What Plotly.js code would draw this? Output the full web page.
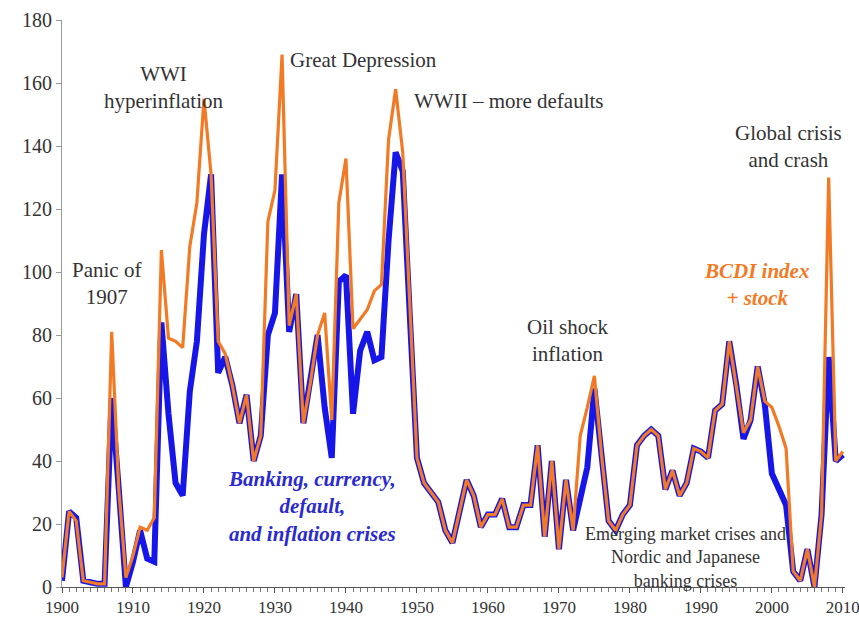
<!DOCTYPE html>
<html>
<head>
<meta charset="utf-8">
<script src="https://cdn.plot.ly/plotly-3.0.1.min.js"></script>
<style>html,body{margin:0;padding:0;background:#fff;}#chart{width:859px;height:617px;}</style>
</head>
<body>
<div id="chart"></div>
<script>
// Years 1900..2010
const startYear = 1900;
const endYear = 2010;
const years = [];
for (let y = startYear; y <= endYear; y++) years.push(y);

// BCDI index + stock (orange)
const bcdiStock = [
  3, 24, 21, 2, 1.5, 1, 1, 81, 31, 3,
  10, 19, 18, 22, 107, 79, 78, 76, 108, 122,
  155, 131, 78, 74, 64, 52, 61, 40, 48, 116,
  126, 169, 83, 93, 52, 65, 80, 87, 53, 122,
  136, 82, 85, 88, 94, 96, 142, 158, 138, 88,
  41, 33, 30, 27, 18, 14, 24, 34, 29, 19,
  23, 23, 28, 19, 19, 26, 26, 45, 16, 40,
  12, 34, 18, 48, 57, 67, 42, 21, 18, 23,
  26, 45, 48, 50, 48, 31, 37, 29, 33, 44,
  43, 41, 56, 58, 78, 64, 49, 53, 70, 59,
  57, 51, 44, 5, 2, 12, 0, 23, 130, 40,
  43
];

// Banking, currency, default and inflation crises (blue)
const bcdi = [
  2, 24, 22, 2, 1.5, 1, 1, 60, 31, 0,
  8, 18, 9, 8, 84, 55, 33, 29, 62, 78,
  112, 131, 68, 73, 64, 52, 61, 40, 48, 80,
  87, 131, 81, 93, 52, 65, 80, 57, 41, 97,
  99, 55, 75, 81, 72, 73, 110, 138, 132, 86,
  41, 33, 30, 27, 18, 14, 24, 34, 29, 19,
  23, 23, 28, 19, 19, 26, 26, 45, 16, 40,
  12, 34, 18, 28, 38, 63, 42, 21, 18, 23,
  26, 45, 48, 50, 48, 31, 37, 29, 33, 44,
  43, 41, 56, 58, 78, 64, 47, 53, 70, 58,
  36, 31, 26, 5, 2, 12, 0, 23, 73, 40,
  42
];

const xTickVals = [1900, 1910, 1920, 1930, 1940, 1950, 1960, 1970, 1980, 1990, 2000, 2010];
const xTickText = ['1900', '1910', '1920', '1930', '1940', '1950', '1960', '1970', '1980', '1990', '2000', '2010'];
const yTickVals = [0, 20, 40, 60, 80, 100, 120, 140, 160, 180];

const labelTexts = [
  'WWI<br>hyperinflation',
  'Great Depression',
  'WWII \u2013 more defaults',
  'Global crisis<br>and crash',
  'Panic of<br>1907',
  'Oil shock<br>inflation'
];
const labelX = [1914.3, 1942.5, 1963.0, 2002.4, 1906.2, 1971.3];
const labelY = [158.7, 167.3, 154.3, 139.7, 96.2, 78.4];

const serif = 'Liberation Serif, Times New Roman, serif';
const orange = '#f37a25';
const blue = '#1616e8';

const traces = [
  {
    x: years, y: bcdi, type: 'scatter', mode: 'lines',
    line: {color: blue, width: 6},
    name: 'Banking, currency, default, and inflation crises',
    hoverinfo: 'x+y'
  },
  {
    x: years, y: bcdiStock, type: 'scatter', mode: 'lines',
    line: {color: orange, width: 3.2},
    name: 'BCDI index + stock',
    hoverinfo: 'x+y'
  }
];

const annotations = labelTexts.map((t, i) => ({
  x: labelX[i], y: labelY[i], xref: 'x', yref: 'y', text: t,
  showarrow: false, xanchor: 'center', yanchor: 'middle',
  font: {family: serif, size: 21, color: '#333'}
}));
annotations.push({
  x: 1997.9, y: 95.9, xref: 'x', yref: 'y',
  text: '<b><i>BCDI index<br>+ stock</i></b>',
  showarrow: false, xanchor: 'center', yanchor: 'middle',
  font: {family: serif, size: 21, color: orange}
});
annotations.push({
  x: 1935.2, y: 25.7, xref: 'x', yref: 'y',
  text: '<b><i>Banking, currency,<br>default,<br>and inflation crises</i></b>',
  showarrow: false, xanchor: 'center', yanchor: 'middle',
  font: {family: serif, size: 21, color: '#2a2ad0'}
});
annotations.push({
  x: 1987.9, y: 9.5, xref: 'x', yref: 'y',
  text: 'Emerging market crises and<br>Nordic and Japanese<br>banking crises',
  showarrow: false, xanchor: 'center', yanchor: 'middle',
  font: {family: serif, size: 18, color: '#333'}
});

const layout = {
  width: 859, height: 617,
  margin: {l: 62, r: 14, t: 20, b: 30, pad: 0},
  paper_bgcolor: '#fff', plot_bgcolor: '#fff',
  showlegend: false,
  xaxis: {
    range: [1900, 2010.3], showgrid: false, zeroline: false,
    showline: true, linecolor: '#555', linewidth: 1,
    tickmode: 'array', tickvals: xTickVals, ticktext: xTickText,
    ticks: 'outside', ticklen: 5, tickcolor: '#555',
    ticklabeloverflow: 'allow',
    minor: {dtick: 1, tick0: 1900, ticks: 'outside', ticklen: 4, tickcolor: '#777', showgrid: false},
    tickfont: {family: serif, size: 17, color: '#333'}
  },
  yaxis: {
    range: [0, 180], showgrid: false, zeroline: false,
    showline: true, linecolor: '#999', linewidth: 1,
    tickmode: 'array', tickvals: yTickVals,
    ticks: 'outside', ticklen: 5, tickcolor: '#999',
    tickfont: {family: serif, size: 20, color: '#333'}
  },
  annotations: annotations
};

Plotly.newPlot('chart', traces, layout, {displayModeBar: false, staticPlot: true});
</script>
</body>
</html>
